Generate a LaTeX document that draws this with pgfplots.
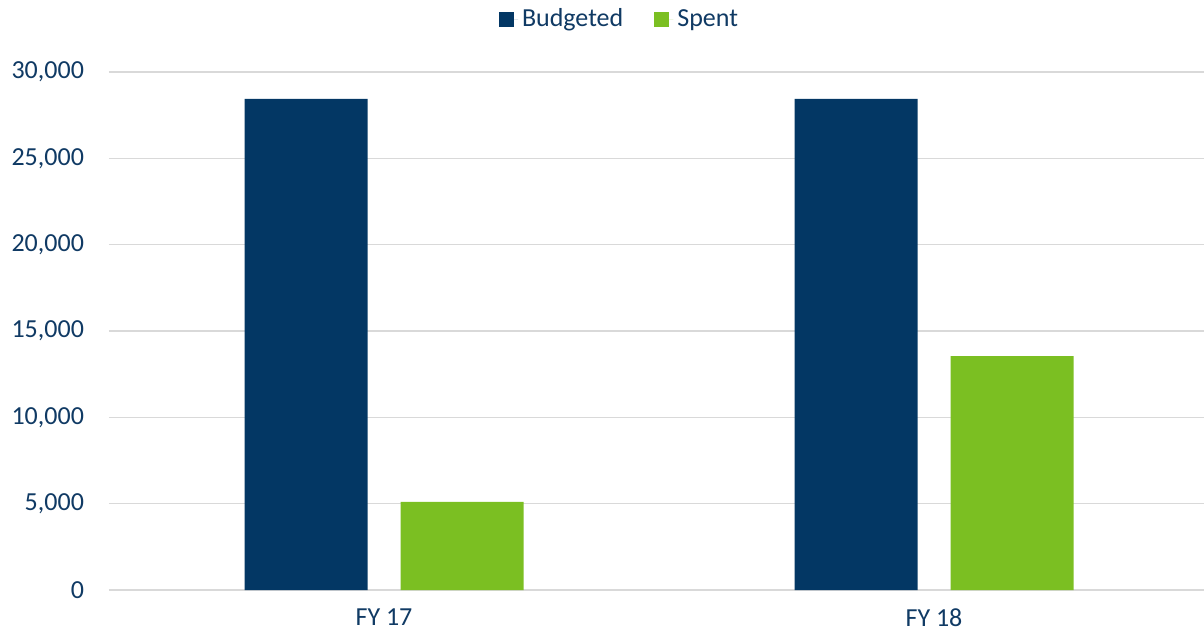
\documentclass[border=0pt]{standalone}
\usepackage{fontspec}
\setmainfont{Carlito}
\usepackage{pgfplots}
\pgfplotsset{compat=1.18}
\definecolor{navybar}{RGB}{3,55,100}
\definecolor{greenbar}{RGB}{123,191,34}
\definecolor{labtxt}{RGB}{16,58,100}
\definecolor{gridgray}{RGB}{217,217,217}
\begin{document}
\begin{tikzpicture}
  \path[use as bounding box] (-54.5pt,-24.5pt) rectangle (547.5pt,295pt);
  \begin{axis}[
    at={(0,0)}, anchor=south west,
    scale only axis,
    width=550pt, height=259pt,
    ybar=16.5pt, bar width=61.5pt,
    xmin=-0.5, xmax=1.5,
    ymin=0, ymax=30000,
    ytick={0,5000,...,30000},
    xtick=data,
    xticklabels={FY 17, FY 18},
    scaled y ticks=false,
    /pgf/number format/.cd, 1000 sep={,}, assume math mode=true, /pgfplots/.cd,
    ymajorgrids,
    grid style={draw=gridgray, line width=0.6pt},
    axis x line*=bottom,
    axis y line*=left,
    x axis line style={draw=gridgray, line width=0.6pt, -},
    y axis line style={draw=none},
    yticklabel style={font=\fontsize{13}{15}\selectfont, text=labtxt, xshift=-9pt},
    xticklabel style={font=\fontsize{13}{15}\selectfont, text=labtxt, yshift=-6pt},
    major tick length=0pt,
    ytick style={draw=none}, xtick style={draw=none},
    clip=false,
    legend columns=2,
    legend style={at={(0.465,1.102)}, anchor=center, draw=none,
      font=\fontsize{13}{15}\selectfont, text=labtxt,
      /tikz/every even column/.append style={column sep=13.5pt}},
    legend image code/.code={\fill[#1] (0pt,-3.75pt) rectangle (7.5pt,3.75pt);
      \path (0pt,0pt) -- (9.5pt,0pt);},
  ]
    \addplot[fill=navybar, draw=none] coordinates {(0,28450) (1,28450)};
    \addplot[fill=greenbar, draw=none] coordinates {(0,5100) (1,13550)};
    \legend{Budgeted, Spent}
  \end{axis}
\end{tikzpicture}
\end{document}
